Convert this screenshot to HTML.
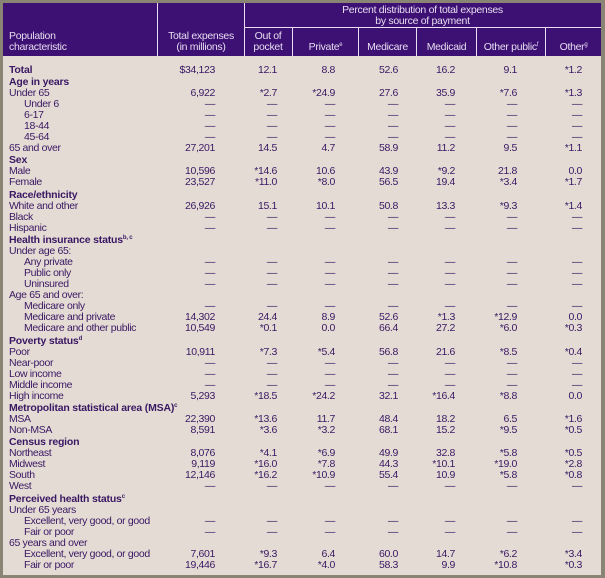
<!DOCTYPE html>
<html><head><meta charset="utf-8"><style>
html,body{margin:0;padding:0;}
body{width:605px;height:578px;background:#8a8474;position:relative;overflow:hidden;font-family:"Liberation Sans Narrow","Liberation Sans",sans-serif;}
#tbl{position:absolute;left:3px;top:3px;width:598px;height:572px;background:#e4dcd4;}
#hdr{position:absolute;left:3px;top:3px;width:598px;height:53px;background:#3d1073;}
.vl{position:absolute;width:1px;background:#e8e0f0;}
.hl{position:absolute;height:1px;background:#e8e0f0;}
.ht{position:absolute;color:#e6ddf0;font-size:10.5px;line-height:11px;text-align:center;letter-spacing:-0.3px;}
.c{position:absolute;color:#3a1763;font-size:10.5px;line-height:11px;white-space:nowrap;letter-spacing:-0.35px;}
.b{font-weight:bold;letter-spacing:-0.2px;}
.n{text-align:right;width:60px;}
sup{font-size:6px;vertical-align:4px;line-height:0;}
</style></head><body>
<div id="tbl"></div>
<div id="hdr"></div>
<div class="vl" style="left:157px;top:3px;height:53px"></div>
<div class="vl" style="left:244px;top:3px;height:53px"></div>
<div class="hl" style="left:244px;top:27px;width:357px"></div>
<div class="vl" style="left:292px;top:27px;height:29px"></div>
<div class="vl" style="left:358px;top:27px;height:29px"></div>
<div class="vl" style="left:416px;top:27px;height:29px"></div>
<div class="vl" style="left:476px;top:27px;height:29px"></div>
<div class="vl" style="left:545px;top:27px;height:29px"></div>
<div class="ht" style="left:244px;top:5px;width:357px">Percent distribution of total expenses<br>by source of payment</div>
<div class="ht" style="left:9px;top:31px;text-align:left">Population<br>characteristic</div>
<div class="ht" style="left:158px;top:31px;width:86px">Total expenses<br>(in millions)</div>
<div class="ht" style="left:244px;top:31px;width:48px">Out of<br>pocket</div>
<div class="ht" style="left:293px;top:42px;width:65px">Private<sup>e</sup></div>
<div class="ht" style="left:359px;top:42px;width:57px">Medicare</div>
<div class="ht" style="left:417px;top:42px;width:59px">Medicaid</div>
<div class="ht" style="left:477px;top:42px;width:68px">Other public<sup>f</sup></div>
<div class="ht" style="left:546px;top:42px;width:55px">Other<sup>g</sup></div>
<script>
const D="—";
const labels=["Total","Age in years","Under 65","Under 6","6-17","18-44","45-64","65 and over","Sex","Male","Female","Race/ethnicity","White and other","Black","Hispanic","Health insurance status","Under age 65:","Any private","Public only","Uninsured","Age 65 and over:","Medicare only","Medicare and private","Medicare and other public","Poverty status","Poor","Near-poor","Low income","Middle income","High income","Metropolitan statistical area (MSA)","MSA","Non-MSA","Census region","Northeast","Midwest","South","West","Perceived health status","Under 65 years","Excellent, very good, or good","Fair or poor","65 years and over","Excellent, very good, or good","Fair or poor"];
const kinds=["b","h","n","i","i","i","i","n","h","n","n","h","n","n","n","h","n","i","i","i","n","i","i","i","h","n","n","n","n","n","h","n","n","h","n","n","n","n","h","n","i","i","n","i","i"];
const sups={15:"b, c",24:"d",30:"c",38:"c"};
const totals=["$34,123","","6,922",D,D,D,D,"27,201","","10,596","23,527","","26,926",D,D,"","",D,D,D,"",D,"14,302","10,549","","10,911",D,D,D,"5,293","","22,390","8,591","","8,076","9,119","12,146",D,"","",D,D,"","7,601","19,446"];
const outOfPocket=["12.1","","*2.7",D,D,D,D,"14.5","","*14.6","*11.0","","15.1",D,D,"","",D,D,D,"",D,"24.4","*0.1","","*7.3",D,D,D,"*18.5","","*13.6","*3.6","","*4.1","*16.0","*16.2",D,"","",D,D,"","*9.3","*16.7"];
const privateIns=["8.8","","*24.9",D,D,D,D,"4.7","","10.6","*8.0","","10.1",D,D,"","",D,D,D,"",D,"8.9","0.0","","*5.4",D,D,D,"*24.2","","11.7","*3.2","","*6.9","*7.8","*10.9",D,"","",D,D,"","6.4","*4.0"];
const medicare=["52.6","","27.6",D,D,D,D,"58.9","","43.9","56.5","","50.8",D,D,"","",D,D,D,"",D,"52.6","66.4","","56.8",D,D,D,"32.1","","48.4","68.1","","49.9","44.3","55.4",D,"","",D,D,"","60.0","58.3"];
const medicaid=["16.2","","35.9",D,D,D,D,"11.2","","*9.2","19.4","","13.3",D,D,"","",D,D,D,"",D,"*1.3","27.2","","21.6",D,D,D,"*16.4","","18.2","15.2","","32.8","*10.1","10.9",D,"","",D,D,"","14.7","9.9"];
const otherPublic=["9.1","","*7.6",D,D,D,D,"9.5","","21.8","*3.4","","*9.3",D,D,"","",D,D,D,"",D,"*12.9","*6.0","","*8.5",D,D,D,"*8.8","","6.5","*9.5","","*5.8","*19.0","*5.8",D,"","",D,D,"","*6.2","*10.8"];
const other=["*1.2","","*1.3",D,D,D,D,"*1.1","","0.0","*1.7","","*1.4",D,D,"","",D,D,D,"",D,"0.0","*0.3","","*0.4",D,D,D,"0.0","","*1.6","*0.5","","*0.5","*2.8","*0.8",D,"","",D,D,"","*3.4","*0.3"];
const cols=[totals,outOfPocket,privateIns,medicare,medicaid,otherPublic,other];
const colNames=["total-expenses","out-of-pocket","private","medicare","medicaid","other-public","other"];
const rightEdges=[215,277,335,398,455,517,582];
let y=70;
for(let i=0;i<labels.length;i++){
  if(i>0) y+=(kinds[i]==="h")?12.4:11;
  const top=y-5.5;
  const l=document.createElement('div');
  l.className='c'+((kinds[i]==="h"||kinds[i]==="b")?' b':'');
  l.style.left=(kinds[i]==="i"?24:9)+'px';
  l.style.top=top+'px';
  l.innerHTML=labels[i]+(sups[i]?'<sup>'+sups[i]+'</sup>':'');
  
  
  document.body.appendChild(l);
  for(let c=0;c<cols.length;c++){
    const v=cols[c][i];
    if(!v) continue;
    const d=document.createElement('div');
    d.className='c n';
    d.style.left=(rightEdges[c]-60)+'px';
    d.style.top=top+'px';
    d.textContent=v;
    
    
    document.body.appendChild(d);
  }
}
</script>
</body></html>
